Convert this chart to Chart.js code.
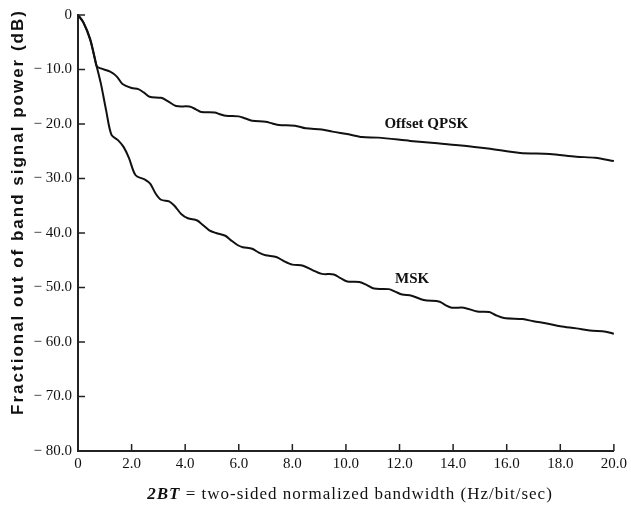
<!DOCTYPE html>
<html>
<head>
<meta charset="utf-8">
<script src="https://cdn.jsdelivr.net/npm/chart.js@4.4.1/dist/chart.umd.min.js"></script>
<style>
  html, body { margin: 0; padding: 0; background: #fff; }
  #wrap { width: 631px; height: 514px; }
</style>
</head>
<body>
<div id="wrap"><canvas id="psdChart" width="631" height="514"></canvas></div>
<script>
// values
const qpskBandwidth = [0, 0.2, 0.45, 0.63, 0.7, 0.85, 1.2, 1.45, 1.65, 2.0, 2.25, 2.45, 2.67, 3.1, 3.35, 3.66, 4.16, 4.4, 4.6, 5.1, 5.3, 5.52, 6.0, 6.25, 6.5, 7.0, 7.25, 7.5, 8.1, 8.5, 9.1, 9.5, 10.1, 10.6, 11.2, 12.4, 13.3, 14.2, 15.3, 16.5, 17.6, 18.6, 19.3, 20.0];
const qpskPower = [0, -1.3, -4.3, -8.0, -9.4, -9.8, -10.4, -11.3, -12.6, -13.4, -13.6, -14.2, -15.0, -15.2, -15.8, -16.7, -16.8, -17.3, -17.8, -17.9, -18.2, -18.5, -18.6, -19.0, -19.4, -19.6, -19.9, -20.2, -20.3, -20.8, -21.0, -21.4, -21.9, -22.4, -22.5, -23.1, -23.5, -23.9, -24.5, -25.3, -25.5, -26.0, -26.2, -26.8];

const mskBandwidth = [0, 0.2, 0.45, 0.65, 0.85, 1.05, 1.25, 1.5, 1.7, 1.9, 2.15, 2.5, 2.7, 2.9, 3.1, 3.4, 3.6, 3.85, 4.1, 4.45, 4.65, 4.9, 5.15, 5.5, 5.7, 5.95, 6.15, 6.5, 6.75, 7.0, 7.4, 7.7, 8.0, 8.4, 8.75, 9.1, 9.55, 9.8, 10.05, 10.5, 10.8, 11.05, 11.6, 11.85, 12.1, 12.45, 12.9, 13.5, 13.7, 13.95, 14.4, 14.9, 15.35, 15.6, 15.9, 16.6, 17.0, 17.5, 18.0, 18.6, 19.1, 19.7, 20.0];
const mskPower = [0, -1.4, -4.5, -8.5, -12.5, -17.5, -22.0, -23.0, -24.2, -26.2, -29.4, -30.2, -31.0, -32.8, -33.9, -34.2, -35.0, -36.5, -37.3, -37.7, -38.5, -39.5, -40.0, -40.5, -41.3, -42.2, -42.6, -42.9, -43.6, -44.1, -44.4, -45.2, -45.8, -46.0, -46.8, -47.5, -47.6, -48.3, -48.9, -49.0, -49.6, -50.2, -50.3, -50.8, -51.3, -51.5, -52.3, -52.6, -53.2, -53.7, -53.7, -54.4, -54.5, -55.1, -55.6, -55.8, -56.2, -56.6, -57.1, -57.5, -57.9, -58.1, -58.5];

const xTicks = [0, 2, 4, 6, 8, 10, 12, 14, 16, 18, 20];
const yTicks = [0, -10, -20, -30, -40, -50, -60, -70, -80];

const seriesNames = ['Offset QPSK', 'MSK'];

const toPoints = (xs, ys) => xs.map((x, i) => ({ x: x, y: ys[i] }));

// inward tick marks, curve labels and both axis titles
const decorations = {
  id: 'decorations',
  afterDraw(chart) {
    const { ctx, chartArea, scales } = chart;
    const xs = scales.x, ys = scales.y;
    ctx.save();
    ctx.strokeStyle = '#222';
    ctx.lineWidth = 1.5;
    xTicks.forEach(v => {
      if (v === 0) return;
      const px = xs.getPixelForValue(v);
      ctx.beginPath();
      ctx.moveTo(px, chartArea.bottom);
      ctx.lineTo(px, chartArea.bottom - 7);
      ctx.stroke();
    });
    yTicks.forEach(v => {
      if (v === -80) return;
      const py = ys.getPixelForValue(v);
      ctx.beginPath();
      ctx.moveTo(chartArea.left, py);
      ctx.lineTo(chartArea.left + 7, py);
      ctx.stroke();
    });

    // curve names
    ctx.fillStyle = '#111';
    ctx.font = 'bold 15px "Liberation Serif", serif';
    ctx.textAlign = 'center';
    ctx.textBaseline = 'middle';
    ctx.fillText(seriesNames[0], xs.getPixelForValue(13.0), ys.getPixelForValue(-20.1));
    ctx.fillText(seriesNames[1], xs.getPixelForValue(12.47), ys.getPixelForValue(-48.4));

    // x axis title, "2BT" in bold italic
    const part1 = '2BT';
    const part2 = ' = two-sided normalized bandwidth (Hz/bit/sec)';
    const f1 = 'italic bold 17px "Liberation Serif", serif';
    const f2 = '17px "Liberation Serif", serif';
    ctx.letterSpacing = '1px';
    ctx.font = f1;
    const w1 = ctx.measureText(part1).width;
    ctx.font = f2;
    const w2 = ctx.measureText(part2).width;
    const startX = 350 - (w1 + w2) / 2;
    ctx.textAlign = 'left';
    ctx.font = f1;
    ctx.fillText(part1, startX, 495);
    ctx.font = f2;
    ctx.fillText(part2, startX + w1, 495);

    // y axis title
    ctx.translate(18, 212);
    ctx.rotate(-Math.PI / 2);
    ctx.letterSpacing = '2px';
    ctx.font = 'bold 17px "Liberation Sans", sans-serif';
    ctx.textAlign = 'center';
    ctx.fillText('Fractional out of band signal power (dB)', 0, 0);
    ctx.restore();
  }
};

const ctx = document.getElementById('psdChart').getContext('2d');

new Chart(ctx, {
  type: 'line',
  data: {
    datasets: [
      {
        label: seriesNames[0],
        data: toPoints(qpskBandwidth, qpskPower),
        borderColor: '#111',
        borderWidth: 2,
        pointRadius: 0,
        tension: 0.3
      },
      {
        label: seriesNames[1],
        data: toPoints(mskBandwidth, mskPower),
        borderColor: '#111',
        borderWidth: 2,
        pointRadius: 0,
        tension: 0.3
      }
    ]
  },
  options: {
    responsive: false,
    animation: false,
    layout: { padding: { top: 13, right: 14, left: 0, bottom: 0 } },
    plugins: {
      legend: { display: false },
      tooltip: { enabled: false }
    },
    scales: {
      x: {
        type: 'linear',
        min: 0,
        max: 20,
        afterBuildTicks(scale) { scale.ticks = xTicks.map(v => ({ value: v })); },
        afterFit(scale) { scale.height = 63; },
        grid: { drawOnChartArea: false, drawTicks: false },
        border: { display: true, color: '#222', width: 2 },
        ticks: {
          padding: 4,
          color: '#111',
          font: { family: '"Liberation Serif", serif', size: 15 },
          callback: v => (v === 0 ? '0' : v.toFixed(1))
        }
      },
      y: {
        type: 'linear',
        min: -80,
        max: 0,
        afterBuildTicks(scale) { scale.ticks = yTicks.map(v => ({ value: v })); },
        afterFit(scale) { scale.width = 78; },
        grid: { drawOnChartArea: false, drawTicks: false },
        border: { display: true, color: '#222', width: 2 },
        ticks: {
          padding: 6,
          color: '#111',
          font: { family: '"Liberation Serif", serif', size: 15 },
          callback: v => (v === 0 ? '0' : '\u2212 ' + Math.abs(v).toFixed(1))
        }
      }
    }
  },
  plugins: [decorations]
});
</script>
</body>
</html>
